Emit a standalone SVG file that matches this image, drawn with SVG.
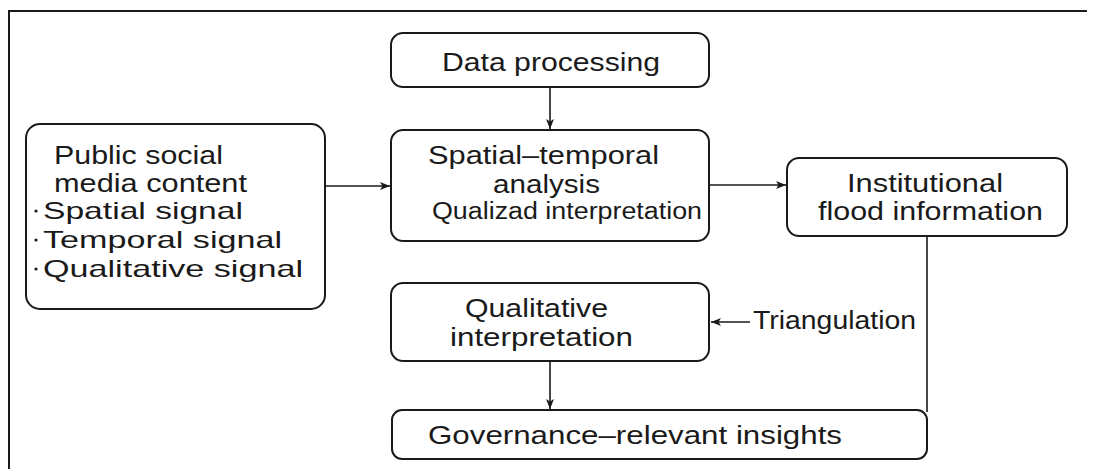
<svg xmlns="http://www.w3.org/2000/svg" width="1096" height="469" viewBox="0 0 1096 469">
<defs>
<marker id="ah" viewBox="0 0 10 10" refX="10" refY="5" markerWidth="10" markerHeight="10" markerUnits="userSpaceOnUse" orient="auto">
<path d="M0,1 L10,5 L0,9 L2.5,5 Z" fill="#1a1a1a"/>
</marker>
<style>
.box{fill:#fff;stroke:#1a1a1a;stroke-width:2}
.t{font-family:"Liberation Sans",Arial,sans-serif;fill:#1a1a1a}
.c{stroke:#1a1a1a;stroke-width:1.6;fill:none}
.dot{fill:#1a1a1a}
</style>
</defs>
<rect width="1096" height="469" fill="#fff"/>
<g id="frame"><path d="M9,469 L9,11 L1087,11" fill="none" stroke="#1a1a1a" stroke-width="2"/></g>

<g id="connectors">
<line class="c" x1="550" y1="87" x2="550" y2="129" marker-end="url(#ah)"/>
<line class="c" x1="325" y1="186" x2="390" y2="186" marker-end="url(#ah)"/>
<line class="c" x1="709" y1="185" x2="786" y2="185" marker-end="url(#ah)"/>
<line class="c" x1="550" y1="361" x2="550" y2="409" marker-end="url(#ah)"/>
<line class="c" x1="750" y1="322" x2="711" y2="322" marker-end="url(#ah)"/>
<line class="c" x1="927" y1="236" x2="927" y2="412" stroke-width="2"/>
</g>

<g id="data-processing">
<rect class="box" x="391" y="33" width="318" height="54" rx="12"/>
<text class="t" x="442" y="71" font-size="26" textLength="218" lengthAdjust="spacingAndGlyphs">Data processing</text>
</g>

<g id="spatial-temporal">
<rect class="box" x="391" y="130" width="318" height="111" rx="12"/>
<text class="t" x="428" y="164" font-size="25" textLength="231" lengthAdjust="spacingAndGlyphs">Spatial–temporal</text>
<text class="t" x="493" y="193" font-size="25" textLength="107" lengthAdjust="spacingAndGlyphs">analysis</text>
<text class="t" x="432" y="219" font-size="23" textLength="270" lengthAdjust="spacingAndGlyphs">Qualizad interpretation</text>
</g>

<g id="public-social">
<rect class="box" x="26" y="124" width="299" height="185" rx="14"/>
<text class="t" x="54" y="164" font-size="26" textLength="169" lengthAdjust="spacingAndGlyphs">Public social</text>
<text class="t" x="54" y="192" font-size="26" textLength="193" lengthAdjust="spacingAndGlyphs">media content</text>
<circle class="dot" cx="36" cy="211" r="1.6"/>
<text class="t" x="43" y="219" font-size="24" textLength="200" lengthAdjust="spacingAndGlyphs">Spatial signal</text>
<circle class="dot" cx="36" cy="240" r="1.6"/>
<text class="t" x="43" y="248" font-size="24" textLength="239" lengthAdjust="spacingAndGlyphs">Temporal signal</text>
<circle class="dot" cx="36" cy="269" r="1.6"/>
<text class="t" x="43" y="277" font-size="24" textLength="260" lengthAdjust="spacingAndGlyphs">Qualitative signal</text>
</g>

<g id="institutional">
<rect class="box" x="787" y="158" width="280" height="78" rx="12"/>
<text class="t" x="847" y="192" font-size="26" textLength="156" lengthAdjust="spacingAndGlyphs">Institutional</text>
<text class="t" x="818" y="220" font-size="26" textLength="225" lengthAdjust="spacingAndGlyphs">flood information</text>
</g>

<g id="qualitative">
<rect class="box" x="391" y="283" width="318" height="78" rx="12"/>
<text class="t" x="465" y="317" font-size="26" textLength="143" lengthAdjust="spacingAndGlyphs">Qualitative</text>
<text class="t" x="450" y="346" font-size="26" textLength="183" lengthAdjust="spacingAndGlyphs">interpretation</text>
</g>

<g id="triangulation">
<text class="t" x="753" y="329" font-size="25" textLength="163" lengthAdjust="spacingAndGlyphs">Triangulation</text>
</g>

<g id="governance">
<rect class="box" x="392" y="410" width="535" height="49" rx="10"/>
<text class="t" x="428" y="444" font-size="26" textLength="414" lengthAdjust="spacingAndGlyphs">Governance–relevant insights</text>
</g>
</svg>
